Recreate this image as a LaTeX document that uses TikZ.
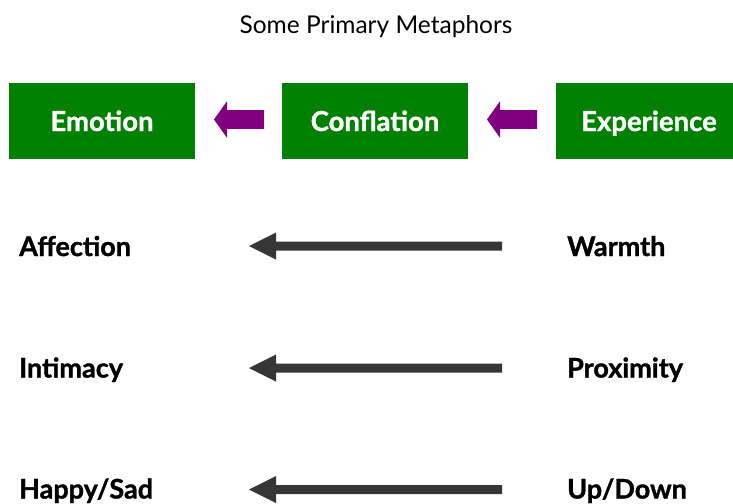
\documentclass[tikz,border=0pt]{standalone}
\usepackage{fontspec}
\setmainfont{Lato}
\newfontfamily\heavyfont{Lato}[BoldFeatures={FakeBold=1.2}]
\definecolor{boxgreen}{HTML}{008000}
\definecolor{arrowpurple}{HTML}{800080}
\definecolor{arrowgray}{HTML}{363636}
\tikzset{
  greenbox/.style={fill=boxgreen, minimum width=186pt, minimum height=76pt, inner sep=0pt,
    text=white, text height=21pt, text depth=0pt, font=\heavyfont\bfseries\fontsize{27.5}{27.5}\selectfont},
  rowlabel/.style={anchor=base west, inner sep=0pt, font=\heavyfont\bfseries\fontsize{27}{27}\selectfont},
  titletext/.style={inner sep=0pt, font=\fontsize{24.5}{24.5}\selectfont},
  darkarrow/.pic={\fill[arrowgray] (0,0) -- (27,-13.5) -- (27,-4.5) -- (253,-4.5) -- (253,4.5) -- (27,4.5) -- (27,13.5) -- cycle;},
  purplearrow/.pic={\fill[arrowpurple] (0,0) -- (13,-18.3) -- (13,-9.3) -- (50,-9.3) -- (50,9.3) -- (13,9.3) -- (13,18.3) -- cycle;}
}
\begin{document}
\begin{tikzpicture}[x=1pt,y=-1pt]
\useasboundingbox (0,0) rectangle (733,503);
\clip (0,0) rectangle (733,503);
\node[titletext, anchor=base] (title) at (376,34) {Some Primary Metaphors};
\node[greenbox] (emotion) at (102,120.5) {Emotion};
\node[greenbox] (conflation) at (375,120.5) {Conflation};
\node[greenbox] (experience) at (649,120.5) {Experience};
\pic at (214,119.5) {purplearrow};
\pic at (487,119.5) {purplearrow};
\node[rowlabel] (affection) at (19,256) {Affection};
\node[rowlabel] (warmth) at (567,256) {Warmth};
\node[rowlabel] (intimacy) at (19,377.5) {Intimacy};
\node[rowlabel] (proximity) at (567,377.5) {Proximity};
\node[rowlabel] (happysad) at (19,498.5) {Happy/Sad};
\node[rowlabel] (updown) at (567,498.5) {Up/Down};
\pic at (249,246) {darkarrow};
\pic at (249,368) {darkarrow};
\pic at (249,489.5) {darkarrow};
\end{tikzpicture}
\end{document}
